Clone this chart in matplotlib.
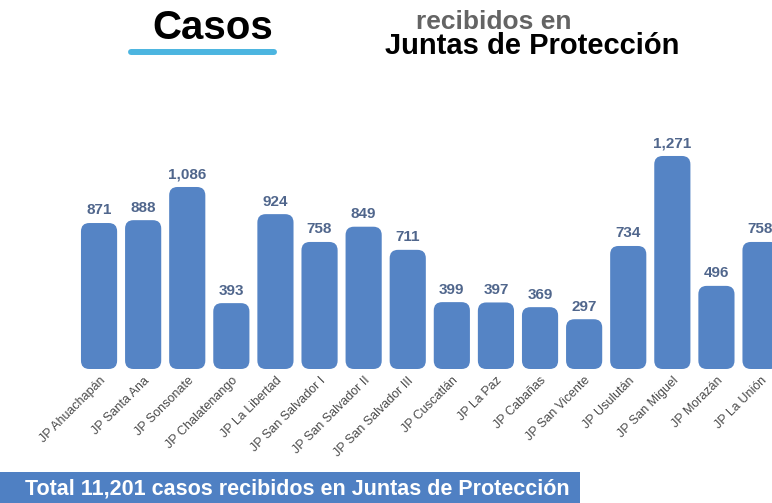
import matplotlib
matplotlib.use("Agg")
import matplotlib.pyplot as plt
from matplotlib.patches import FancyBboxPatch, Rectangle
from matplotlib.lines import Line2D

plt.rcParams['font.family'] = ['Liberation Sans', 'DejaVu Sans']

# datos: casos recibidos por Junta de Protección
juntas = ['JP Ahuachapán', 'JP Santa Ana', 'JP Sonsonate', 'JP Chalatenango',
          'JP La Libertad', 'JP San Salvador I', 'JP San Salvador II',
          'JP San Salvador III', 'JP Cuscatlán', 'JP La Paz', 'JP Cabañas',
          'JP San Vicente', 'JP Usulután', 'JP San Miguel', 'JP Morazán',
          'JP La Unión']
casos = [871, 888, 1086, 393, 924, 758, 849, 711, 399, 397, 369, 297,
         734, 1271, 496, 758]
total = 11201

W, H = 772, 503
bar_color = '#5584c5'
label_color = '#50668c'

fig = plt.figure(figsize=(W / 100, H / 100), dpi=100)
ax = fig.add_axes([77 / W, 1 - 369 / H, 695 / W, 239 / H])
ax.set_xlim(-0.5, 15.26)
ax.set_ylim(0, 1426)

x = list(range(len(casos)))
bars = ax.bar(x, casos, width=0.82, alpha=0)

# barras con esquinas redondeadas
px_x = 695 / 15.76
px_y = 239 / 1426
asp = px_x / px_y
for b in bars:
    p = FancyBboxPatch((b.get_x(), 0), b.get_width(), b.get_height(),
                       boxstyle="round,pad=0,rounding_size=0.19",
                       mutation_aspect=asp, facecolor=bar_color,
                       edgecolor='none', clip_on=False)
    ax.add_patch(p)

for xi, v in zip(x, casos):
    ax.annotate(f"{v:,}", (xi, v), xytext=(0, 4), textcoords='offset points',
                ha='center', va='bottom', fontsize=11, fontweight='bold',
                color=label_color)

ax.set_xticks(x)
ax.set_xticklabels(juntas, rotation=45, ha='right', rotation_mode='anchor',
                   fontsize=9, color='#4a4a4a')
ax.tick_params(axis='x', length=0, pad=4)
ax.set_yticks([])
for s in ax.spines.values():
    s.set_visible(False)

# titulo
fig.text(152 / W, 1 - 39 / H, 'Casos', fontsize=29, fontweight='bold',
         va='baseline', ha='left', color='black')
fig.add_artist(Line2D([131 / W, 274 / W], [1 - 52 / H, 1 - 52 / H],
                      transform=fig.transFigure, color='#4cb5e0', lw=4.3,
                      solid_capstyle='round'))
fig.text(416 / W, 1 - 29 / H, 'recibidos en', fontsize=19, fontweight='bold',
         va='baseline', ha='left', color='#646464')
fig.text(385 / W, 1 - 54 / H, 'Juntas de Protección', fontsize=21,
         fontweight='bold', va='baseline', ha='left', color='black')

# banda inferior con el total
fig.add_artist(Rectangle((0, 0), 580 / W, 31 / H, transform=fig.transFigure,
                         facecolor='#4f80c3', edgecolor='none'))
fig.text(25 / W, 1 - 495 / H,
         f'Total {total:,} casos recibidos en Juntas de Protección',
         fontsize=15.5, fontweight='bold', va='baseline', ha='left',
         color='white')

fig.savefig('out.png', dpi=100)
